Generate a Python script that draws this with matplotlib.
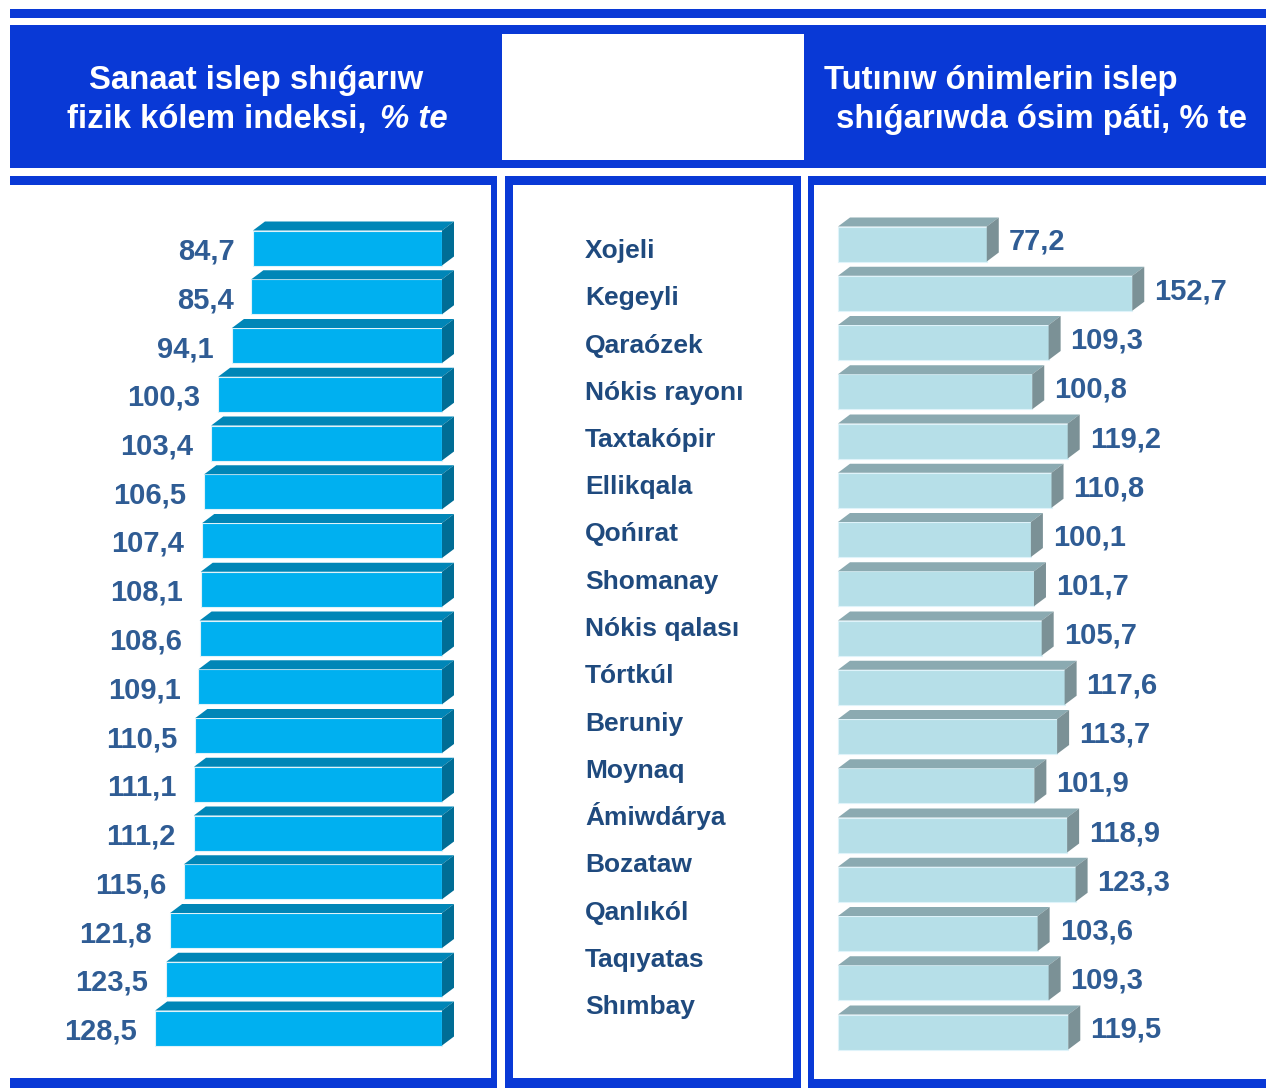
import matplotlib
matplotlib.use("Agg")
import matplotlib.pyplot as plt
from matplotlib.patches import Rectangle, Polygon

plt.rcParams['font.family'] = ['Liberation Sans', 'DejaVu Sans']
plt.rcParams['font.weight'] = 'bold'

# district names (middle column)
regions = ['Xojeli', 'Kegeyli', 'Qaraózek', 'Nókis rayonı', 'Taxtakópir',
           'Ellikqala', 'Qońırat', 'Shomanay', 'Nókis qalası', 'Tórtkúl',
           'Beruniy', 'Moynaq', 'Ámiwdárya', 'Bozataw', 'Qanlıkól',
           'Taqıyatas', 'Shımbay']
# industrial output physical volume index, %
industry_index = [84.7, 85.4, 94.1, 100.3, 103.4, 106.5, 107.4, 108.1, 108.6,
                  109.1, 110.5, 111.1, 111.2, 115.6, 121.8, 123.5, 128.5]
# consumer goods production growth, %
consumer_growth = [77.2, 152.7, 109.3, 100.8, 119.2, 110.8, 100.1, 101.7,
                   105.7, 117.6, 113.7, 101.9, 118.9, 123.3, 103.6, 109.3,
                   119.5]

title_left = ['Sanaat islep shıǵarıw', 'fizik kólem indeksi,', '% te']
title_right = ['Tutınıw ónimlerin islep', 'shıǵarıwda ósim páti, % te']

W, H = 1266, 1092
FRAME = '#0939D6'
LABEL = '#2F5C94'
NAME = '#1F4A7E'

fig = plt.figure(figsize=(W / 100, H / 100), dpi=100)
fig.patch.set_facecolor('white')


def fig_box(x0, y0, x1, y1, color):
    fig.add_artist(Rectangle((x0 / W, 1 - y1 / H), (x1 - x0) / W,
                             (y1 - y0) / H, transform=fig.transFigure,
                             facecolor=color, edgecolor='none', zorder=0))


def px_axes(x0, y0, x1, y1):
    ax = fig.add_axes([x0 / W, 1 - y1 / H, (x1 - x0) / W, (y1 - y0) / H])
    ax.axis('off')
    return ax


def fmt(v):
    return ('%.1f' % v).replace('.', ',')


def bar3d(ax, i, v, h, side_x, kx, ky, colors):
    front, top, side = colors
    t, b = i - h / 2, i + h / 2
    ax.add_patch(Rectangle((0, t), v, h, facecolor=front,
                           edgecolor='#dff3fa', lw=0.8, clip_on=False))
    ax.add_patch(Polygon([(0, t), (v, t), (v + kx, t + ky), (kx, t + ky)],
                         closed=True, facecolor=top, edgecolor='none',
                         clip_on=False))
    ax.add_patch(Polygon([(side_x, t), (side_x + kx, t + ky),
                          (side_x + kx, b + ky), (side_x, b)],
                         closed=True, facecolor=side, edgecolor='none',
                         clip_on=False))


# frame: top stripe, header band, panel borders
fig_box(10, 9, 1266, 18, FRAME)
fig_box(10, 25, 1266, 168, FRAME)
fig_box(502, 34, 804, 160, 'white')
fig_box(10, 176, 497, 185, FRAME)
fig_box(491, 176, 497, 1088, FRAME)
fig_box(10, 1078, 497, 1088, FRAME)
fig_box(505, 176, 801, 185, FRAME)
fig_box(505, 176, 513, 1088, FRAME)
fig_box(793, 176, 801, 1088, FRAME)
fig_box(505, 1078, 801, 1088, FRAME)
fig_box(808, 176, 1266, 185, FRAME)
fig_box(808, 176, 814, 1088, FRAME)
fig_box(808, 1079, 1266, 1088, FRAME)

# header titles
fs_title = 23.7
fig.text(256 / W, 1 - 89 / H, title_left[0], color='white', fontsize=fs_title,
         ha='center', va='baseline')
fig.text(367 / W, 1 - 128 / H, title_left[1], color='white',
         fontsize=fs_title, ha='right', va='baseline')
fig.text(380 / W, 1 - 128 / H, title_left[2], color='white',
         fontsize=fs_title, ha='left', va='baseline', style='italic')
fig.text(824 / W, 1 - 89 / H, title_right[0], color='white',
         fontsize=fs_title, ha='left', va='baseline')
fig.text(836 / W, 1 - 128 / H, title_right[1], color='white',
         fontsize=fs_title, ha='left', va='baseline')

# left panel: bars grow to the left from a common base
sx_l, row_l, y0_l = 2.232, 48.75, 248
ax_l = px_axes(10, 190, 442, 1075)
ax_l.set_xlim(432 / sx_l, 0)
ax_l.set_ylim((1075 - y0_l) / row_l, (190 - y0_l) / row_l)
h_l = 35 / row_l
for i, v in enumerate(industry_index):
    bar3d(ax_l, i, v, h_l, 0, -12 / sx_l, -9 / row_l,
          ('#00B0F0', '#0086B7', '#006D95'))
    ax_l.text(v + 18 / sx_l, i + 11.5 / row_l, fmt(v), color=LABEL,
              fontsize=21, ha='right', va='baseline', clip_on=False)

# middle panel: district names
ax_c = px_axes(513, 190, 793, 1075)
ax_c.set_xlim(0, 280)
ax_c.set_ylim((1075 - 258) / 47.25, (190 - 258) / 47.25)
for i, name in enumerate(regions):
    ax_c.text(72, i, name, color=NAME, fontsize=19, ha='left',
              va='baseline', clip_on=False)

# right panel: bars grow to the right
sx_r, row_r, y0_r = 1.927, 49.25, 244
ax_r = px_axes(838, 190, 1260, 1075)
ax_r.set_xlim(0, 422 / sx_r)
ax_r.set_ylim((1075 - y0_r) / row_r, (190 - y0_r) / row_r)
h_r = 35 / row_r
for i, v in enumerate(consumer_growth):
    bar3d(ax_r, i, v, h_r, v, 12 / sx_r, -9 / row_r,
          ('#B6DFE8', '#8BAAB1', '#7B9196'))
    ax_r.text(v + 22 / sx_r, i + 6 / row_r, fmt(v), color=LABEL,
              fontsize=21, ha='left', va='baseline', clip_on=False)

fig.savefig('out.png', dpi=100)
